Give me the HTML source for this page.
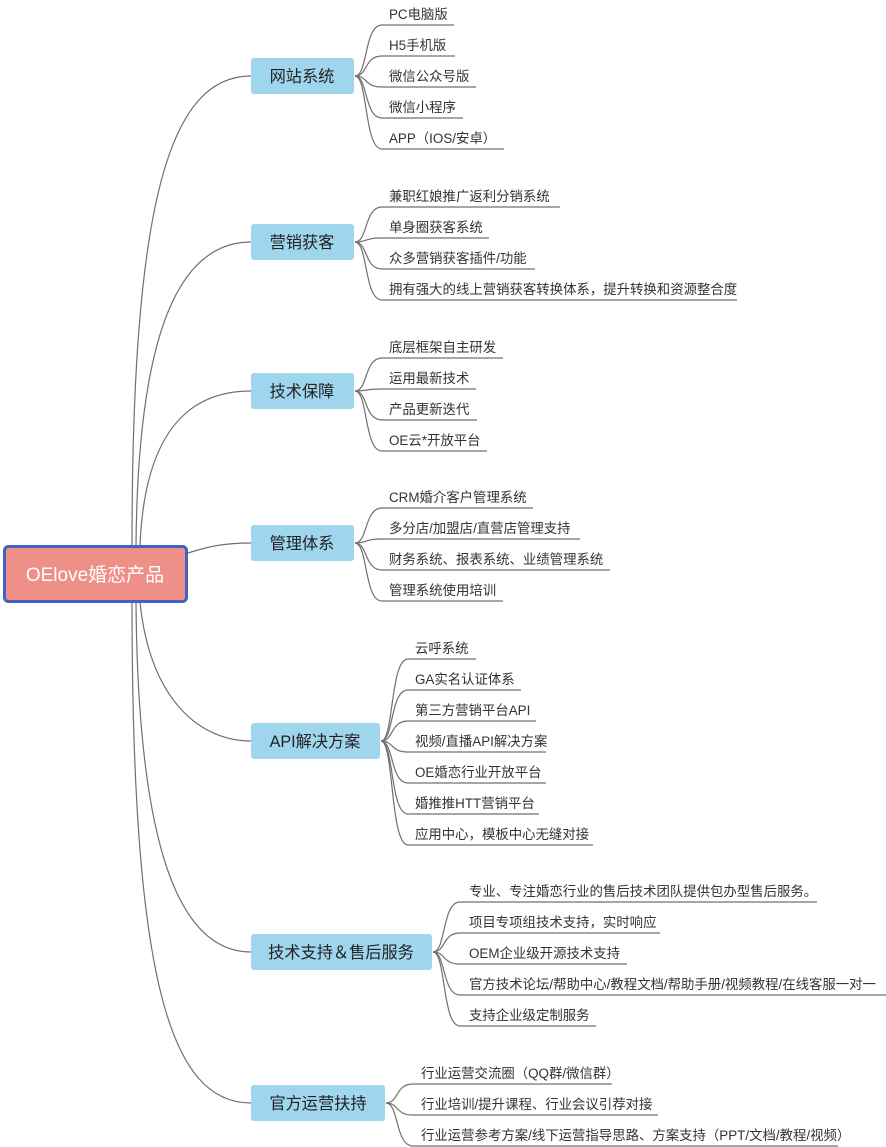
<!DOCTYPE html>
<html><head><meta charset="utf-8"><style>
html,body{margin:0;padding:0;background:#fff;}
svg{display:block;font-family:"Liberation Sans","Noto Sans CJK SC",sans-serif;}
.l{font-size:13.4px;fill:#333;}
.b{font-size:16.2px;fill:#222;}
path{fill:none;stroke:#707070;stroke-width:1.2;}
</style></head><body>
<svg width="886" height="1147" viewBox="0 0 886 1147">
<path d="M132 545 C132 200 170 76 251 76"/>
<path d="M136 545 C138 330 180 242 251 242"/>
<path d="M140 545 C145 430 190 391 251 391"/>
<path d="M188 553 C210 546 225 543 251 543"/>
<path d="M140 602 C150 700 200 741 251 741"/>
<path d="M136 602 C138 850 180 952 251 952"/>
<path d="M132 602 C132 980 170 1103 251 1103"/>

<rect x="4.5" y="546.5" width="182" height="55" rx="4" fill="#ee8f88" stroke="#4460c0" stroke-width="3"/>
<text x="95" y="581" text-anchor="middle" style="font-size:19px;fill:#fff">OElove婚恋产品</text>

<g fill="#9fd6ee">
<rect x="251" y="58" width="103" height="36" rx="3"/>
<rect x="251" y="224" width="103" height="36" rx="3"/>
<rect x="251" y="373" width="103" height="36" rx="3"/>
<rect x="251" y="525" width="103" height="36" rx="3"/>
<rect x="251" y="723" width="129" height="36" rx="3"/>
<rect x="251" y="934" width="181" height="36" rx="3"/>
<rect x="251" y="1085" width="134" height="36" rx="3"/>
</g>
<g class="b" text-anchor="middle">
<text x="302" y="82">网站系统</text>
<text x="302" y="248">营销获客</text>
<text x="302" y="397">技术保障</text>
<text x="302" y="549">管理体系</text>
<text x="315" y="747">API解决方案</text>
<text x="341" y="958">技术支持＆售后服务</text>
<text x="318" y="1109">官方运营扶持</text>
</g>

<path d="M355 76 C368 76 364 25 382 25 L454 25"/>
<path d="M355 76 C368 76 364 56 382 56 L455 56"/>
<path d="M355 76 C368 76 364 87 382 87 L476 87"/>
<path d="M355 76 C368 76 364 118 382 118 L463 118"/>
<path d="M355 76 C368 76 364 149 382 149 L504 149"/>
<g class="l">
<text x="389" y="19">PC电脑版</text>
<text x="389" y="50">H5手机版</text>
<text x="389" y="81">微信公众号版</text>
<text x="389" y="112">微信小程序</text>
<text x="389" y="143">APP（IOS/安卓）</text>
</g>

<path d="M355 242 C368 242 364 207 382 207 L560 207"/>
<path d="M355 242 C368 242 364 238 382 238 L489 238"/>
<path d="M355 242 C368 242 364 269 382 269 L535 269"/>
<path d="M355 242 C368 242 364 300 382 300 L737 300"/>
<g class="l">
<text x="389" y="201">兼职红娘推广返利分销系统</text>
<text x="389" y="232">单身圈获客系统</text>
<text x="389" y="263">众多营销获客插件/功能</text>
<text x="389" y="294">拥有强大的线上营销获客转换体系，提升转换和资源整合度</text>
</g>

<path d="M355 391 C368 391 364 358 382 358 L503 358"/>
<path d="M355 391 C368 391 364 389 382 389 L476 389"/>
<path d="M355 391 C368 391 364 420 382 420 L477 420"/>
<path d="M355 391 C368 391 364 451 382 451 L487 451"/>
<g class="l">
<text x="389" y="352">底层框架自主研发</text>
<text x="389" y="383">运用最新技术</text>
<text x="389" y="414">产品更新迭代</text>
<text x="389" y="445">OE云*开放平台</text>
</g>

<path d="M355 543 C368 543 364 508 382 508 L533 508"/>
<path d="M355 543 C368 543 364 539 382 539 L580 539"/>
<path d="M355 543 C368 543 364 570 382 570 L610 570"/>
<path d="M355 543 C368 543 364 601 382 601 L503 601"/>
<g class="l">
<text x="389" y="502">CRM婚介客户管理系统</text>
<text x="389" y="533">多分店/加盟店/直营店管理支持</text>
<text x="389" y="564">财务系统、报表系统、业绩管理系统</text>
<text x="389" y="595">管理系统使用培训</text>
</g>

<path d="M381 741 C394 741 390 659 408 659 L476 659"/>
<path d="M381 741 C394 741 390 690 408 690 L521 690"/>
<path d="M381 741 C394 741 390 721 408 721 L536 721"/>
<path d="M381 741 C394 741 390 752 408 752 L546 752"/>
<path d="M381 741 C394 741 390 783 408 783 L546 783"/>
<path d="M381 741 C394 741 390 814 408 814 L539 814"/>
<path d="M381 741 C394 741 390 845 408 845 L593 845"/>
<g class="l">
<text x="415" y="653">云呼系统</text>
<text x="415" y="684">GA实名认证体系</text>
<text x="415" y="715">第三方营销平台API</text>
<text x="415" y="746">视频/直播API解决方案</text>
<text x="415" y="777">OE婚恋行业开放平台</text>
<text x="415" y="808">婚推推HTT营销平台</text>
<text x="415" y="839">应用中心，模板中心无缝对接</text>
</g>

<path d="M433 952 C446 952 442 902 460 902 L817 902"/>
<path d="M433 952 C446 952 442 933 460 933 L660 933"/>
<path d="M433 952 C446 952 442 964 460 964 L627 964"/>
<path d="M433 952 C446 952 442 995 460 995 L886 995"/>
<path d="M433 952 C446 952 442 1026 460 1026 L596 1026"/>
<g class="l">
<text x="469" y="896">专业、专注婚恋行业的售后技术团队提供包办型售后服务。</text>
<text x="469" y="927">项目专项组技术支持，实时响应</text>
<text x="469" y="958">OEM企业级开源技术支持</text>
<text x="469" y="989">官方技术论坛/帮助中心/教程文档/帮助手册/视频教程/在线客服一对一</text>
<text x="469" y="1020">支持企业级定制服务</text>
</g>

<path d="M386 1103 C399 1103 395 1084 413 1084 L612 1084"/>
<path d="M386 1103 C399 1103 395 1115 413 1115 L658 1115"/>
<path d="M386 1103 C399 1103 395 1146 413 1146 L838 1146"/>
<g class="l">
<text x="421" y="1078">行业运营交流圈（QQ群/微信群）</text>
<text x="421" y="1109">行业培训/提升课程、行业会议引荐对接</text>
<text x="421" y="1140">行业运营参考方案/线下运营指导思路、方案支持（PPT/文档/教程/视频）</text>
</g>
</svg>
</body></html>
